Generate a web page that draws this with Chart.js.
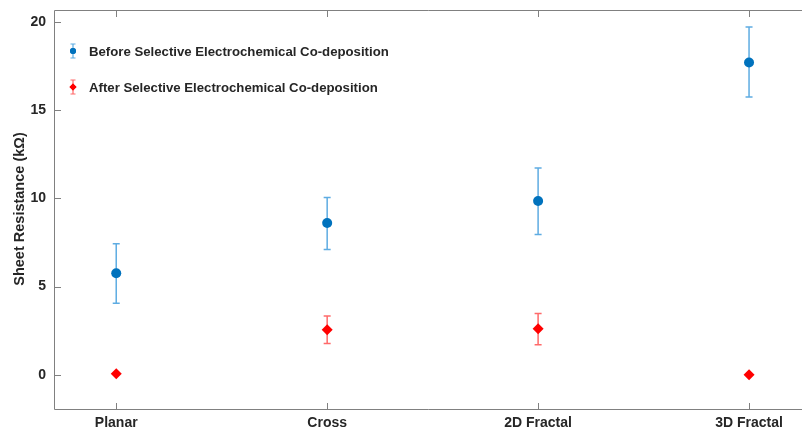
<!DOCTYPE html>
<html>
<head>
<meta charset="utf-8">
<script src="https://cdn.jsdelivr.net/npm/chart.js@4.4.1/dist/chart.umd.min.js"></script>
<style>
  html, body { margin: 0; padding: 0; background: #fff; overflow: hidden; }
  #wrap { width: 802px; height: 433px; }
</style>
</head>
<body>
<div id="wrap"><canvas id="chart"></canvas></div>
<script>
const categories = ['Planar', 'Cross', '2D Fractal', '3D Fractal'];
const yTicks = [0, 5, 10, 15, 20];

const beforeVals = [5.75, 8.6, 9.85, 17.7];
const beforeLow = [4.05, 7.1, 7.95, 15.75];
const beforeHigh = [7.43, 10.05, 11.72, 19.72];

const afterVals = [0.05, 2.55, 2.6, 0.0];
const afterLow = [0.05, 1.77, 1.7, 0.0];
const afterHigh = [0.05, 3.33, 3.47, 0.0];

const labelBefore = 'Before Selective Electrochemical Co-deposition';
const labelAfter = 'After Selective Electrochemical Co-deposition';

const toPoints = vals => vals.map((v, i) => ({ x: i, y: v }));

// --- error bars, inward ticks, frame, legend, y title ---
const extras = {
    id: 'extras',
    beforeDatasetsDraw(chart) {
        const ctx = chart.ctx;
        const xs = chart.scales.x, ys = chart.scales.y;
        const sets = [
            { lo: beforeLow, hi: beforeHigh, color: 'rgba(77,163,223,0.9)' },
            { lo: afterLow, hi: afterHigh, color: 'rgba(255,90,90,0.9)' }
        ];
        ctx.save();
        ctx.lineWidth = 1.5;
        sets.forEach(s => {
            ctx.strokeStyle = s.color;
            s.lo.forEach((lo, i) => {
                const hi = s.hi[i];
                if (hi - lo < 0.01) return;
                const px = xs.getPixelForValue(i);
                const y1 = ys.getPixelForValue(lo), y2 = ys.getPixelForValue(hi);
                ctx.beginPath();
                ctx.moveTo(px, y1); ctx.lineTo(px, y2);
                ctx.moveTo(px - 3.5, y1); ctx.lineTo(px + 3.5, y1);
                ctx.moveTo(px - 3.5, y2); ctx.lineTo(px + 3.5, y2);
                ctx.stroke();
            });
        });
        ctx.restore();
    },
    afterDraw(chart) {
        const ctx = chart.ctx;
        const a = chart.chartArea;
        const xs = chart.scales.x, ys = chart.scales.y;
        ctx.save();
        // frame (box runs past the right edge of the picture)
        ctx.strokeStyle = '#808080';
        ctx.lineWidth = 1;
        ctx.beginPath();
        ctx.moveTo(chart.width, a.top + 0.5);
        ctx.lineTo(a.left + 0.5, a.top + 0.5);
        ctx.lineTo(a.left + 0.5, a.bottom - 0.5);
        ctx.lineTo(chart.width, a.bottom - 0.5);
        ctx.stroke();
        // inward ticks
        ctx.beginPath();
        categories.forEach((c, i) => {
            const px = Math.round(xs.getPixelForValue(i)) + 0.5;
            ctx.moveTo(px, a.bottom); ctx.lineTo(px, a.bottom - 7);
            ctx.moveTo(px, a.top); ctx.lineTo(px, a.top + 7);
        });
        yTicks.forEach(t => {
            const py = Math.round(ys.getPixelForValue(t)) + 0.5;
            ctx.moveTo(a.left, py); ctx.lineTo(a.left + 7, py);
        });
        ctx.stroke();

        // legend
        const entries = [
            { label: labelBefore, color: '#0072BD', bar: 'rgba(77,163,223,0.9)', style: 'circle', y: 51 },
            { label: labelAfter, color: '#FF0000', bar: 'rgba(255,90,90,0.9)', style: 'rectRot', y: 87 }
        ];
        entries.forEach(e => {
            const mx = 73;
            ctx.strokeStyle = e.bar;
            ctx.lineWidth = 1.2;
            ctx.beginPath();
            ctx.moveTo(mx, e.y - 7); ctx.lineTo(mx, e.y + 7);
            ctx.moveTo(mx - 2.5, e.y - 7); ctx.lineTo(mx + 2.5, e.y - 7);
            ctx.moveTo(mx - 2.5, e.y + 7); ctx.lineTo(mx + 2.5, e.y + 7);
            ctx.stroke();
            ctx.fillStyle = e.color;
            Chart.helpers.drawPoint(ctx, { pointStyle: e.style, radius: e.style === 'circle' ? 3 : 3.5, borderWidth: 0 }, mx, e.y);
            ctx.fill();
            ctx.fillStyle = '#262626';
            ctx.font = 'bold 13.2px "Liberation Sans", Arial, sans-serif';
            ctx.textAlign = 'left';
            ctx.textBaseline = 'middle';
            ctx.fillText(e.label, 89, e.y + 1);
        });

        // y axis title
        ctx.translate(20, 209);
        ctx.rotate(-Math.PI / 2);
        ctx.fillStyle = '#262626';
        ctx.font = 'bold 14.5px "Liberation Sans", Arial, sans-serif';
        ctx.textAlign = 'center';
        ctx.textBaseline = 'middle';
        ctx.fillText('Sheet Resistance (kΩ)', 0, 0);
        ctx.restore();
    }
};

const tickFont = { family: '"Liberation Sans", Arial, sans-serif', size: 14, weight: 'bold' };

new Chart(document.getElementById('chart').getContext('2d'), {
    type: 'scatter',
    data: {
        datasets: [
            {
                label: labelBefore,
                data: toPoints(beforeVals),
                backgroundColor: '#0072BD',
                borderColor: '#0072BD',
                pointStyle: 'circle',
                pointRadius: 5,
                borderWidth: 0
            },
            {
                label: labelAfter,
                data: toPoints(afterVals),
                backgroundColor: '#FF0000',
                borderColor: '#FF0000',
                pointStyle: 'rectRot',
                pointRadius: 5.5,
                borderWidth: 0
            }
        ]
    },
    options: {
        responsive: true,
        maintainAspectRatio: false,
        animation: false,
        layout: { padding: { left: 0, top: 10, right: 0, bottom: 0 } },
        plugins: {
            legend: { display: false },
            tooltip: { enabled: false }
        },
        scales: {
            x: {
                type: 'linear',
                min: -0.295,
                max: 3.225,
                afterBuildTicks: s => { s.ticks = categories.map((c, i) => ({ value: i })); },
                afterFit: s => { s.height = 23; s.paddingLeft = 0; s.paddingRight = 0; },
                grid: { display: false, drawTicks: false },
                border: { display: false },
                ticks: {
                    color: '#262626',
                    font: tickFont,
                    padding: 5,
                    maxRotation: 0,
                    callback: v => categories[v]
                }
            },
            y: {
                min: -2,
                max: 20.68,
                afterBuildTicks: s => { s.ticks = yTicks.map(v => ({ value: v })); },
                afterFit: s => { s.width = 54; s.paddingTop = 0; s.paddingBottom = 0; },
                grid: { display: false, drawTicks: false },
                border: { display: false },
                ticks: {
                    color: '#262626',
                    font: tickFont,
                    padding: 8
                }
            }
        }
    },
    plugins: [extras]
});
</script>
</body>
</html>
